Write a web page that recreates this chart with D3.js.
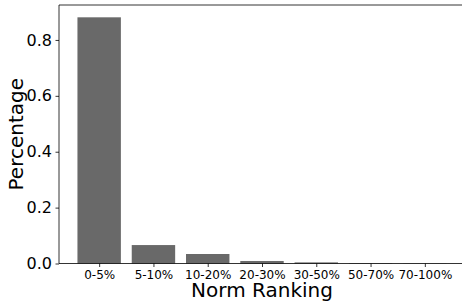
<!DOCTYPE html>
<html>
<head>
<meta charset="utf-8">
<script src="https://cdn.jsdelivr.net/npm/d3@7"></script>
<style>
  body { margin: 0; background: #fff; overflow: hidden; }
  svg { display: block; font-family: "DejaVu Sans", sans-serif; }
</style>
</head>
<body>
<div id="chart"></div>
<script>
const categories = ["0-5%", "5-10%", "10-20%", "20-30%", "30-50%", "50-70%", "70-100%"];
const values = [0.881, 0.066, 0.034, 0.009, 0.004, 0.0012, 0.0006];
const yTicks = [0.0, 0.2, 0.4, 0.6, 0.8];

const width = 462, height = 308;
const margin = { top: 5, right: -3, bottom: 44.5, left: 59 };
const innerW = width - margin.left - margin.right;
const innerH = height - margin.top - margin.bottom;

const svg = d3.select("#chart").append("svg")
    .attr("width", width)
    .attr("height", height);

const g = svg.append("g")
    .attr("transform", `translate(${margin.left},${margin.top})`);

// matplotlib style: bars 0.8 wide, 5% margins
const x = d3.scaleLinear()
    .domain([-0.74, categories.length - 1 + 0.74])
    .range([0, innerW]);
const y = d3.scaleLinear()
    .domain([0, d3.max(values) * 1.05])
    .range([innerH, 0]);

g.selectAll("rect.bar")
    .data(values)
    .enter().append("rect")
    .attr("class", "bar")
    .attr("x", (d, i) => x(i - 0.4))
    .attr("width", x(0.4) - x(-0.4))
    .attr("y", d => y(d))
    .attr("height", d => innerH - y(d))
    .attr("fill", "#696969");

const yAxis = g.append("g")
    .call(d3.axisLeft(y).tickValues(yTicks).tickFormat(d3.format(".1f")).tickSize(3.5).tickPadding(3.5))
    .attr("font-family", "DejaVu Sans");
yAxis.selectAll("text").attr("font-size", 16).attr("fill", "#000");

const xAxis = g.append("g")
    .attr("transform", `translate(0,${innerH})`)
    .call(d3.axisBottom(x).tickValues(d3.range(categories.length)).tickFormat(i => categories[i]).tickSize(3.5).tickPadding(3))
    .attr("font-family", "DejaVu Sans");
xAxis.selectAll("text").attr("font-size", 12).attr("fill", "#000");

svg.selectAll(".domain").remove();
svg.selectAll(".tick line").attr("stroke", "#000").attr("stroke-width", 0.8);

// spines (right one falls outside the figure)
const spines = [[0, 0, 0, innerH], [0, innerH, width, innerH], [0, 0, width, 0]];
g.selectAll("line.spine")
    .data(spines)
    .enter().append("line")
    .attr("class", "spine")
    .attr("x1", d => d[0]).attr("y1", d => d[1])
    .attr("x2", d => d[2]).attr("y2", d => d[3])
    .attr("stroke", "#000")
    .attr("stroke-width", 0.8);

svg.append("text")
    .attr("x", margin.left + x(3))
    .attr("y", 297)
    .attr("text-anchor", "middle")
    .attr("font-size", 20)
    .text("Norm Ranking");

svg.append("text")
    .attr("transform", `translate(23,${margin.top + innerH / 2}) rotate(-90)`)
    .attr("text-anchor", "middle")
    .attr("font-size", 20)
    .text("Percentage");
</script>
</body>
</html>
